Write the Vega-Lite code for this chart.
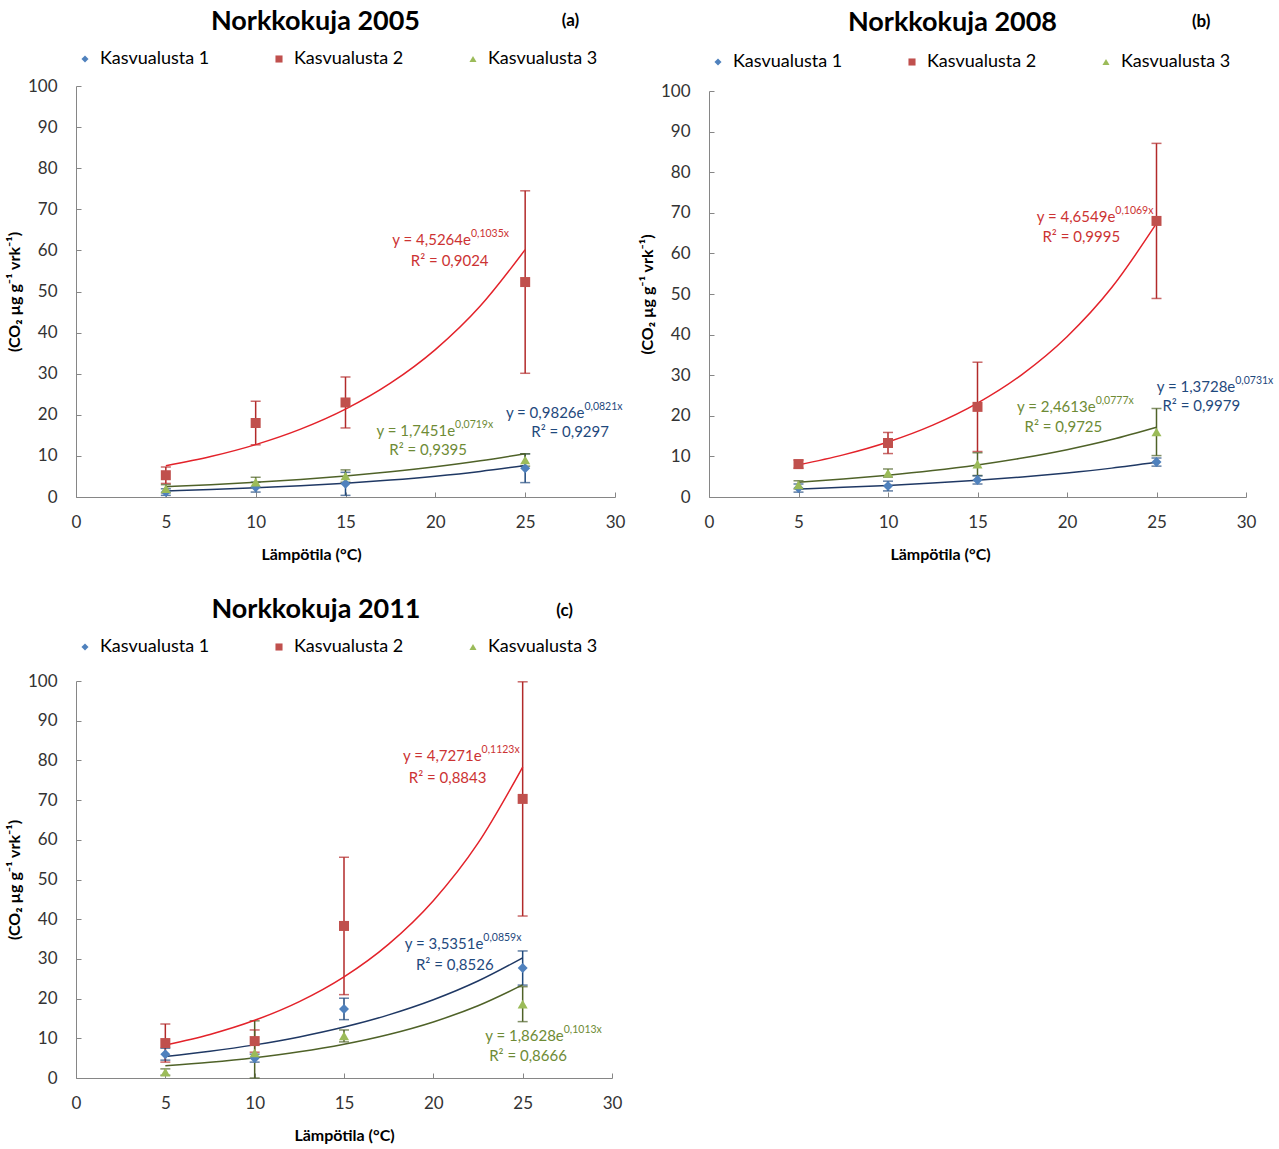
{
  "$schema": "https://vega.github.io/schema/vega-lite/v6.json",
  "background": "white",
  "padding": {"left": 6, "top": 8, "right": 5, "bottom": 5},
  "datasets": {
    "pts": [
      {"p":"a","s":"Kasvualusta 1","x":5,"y":1.2,"lo":0.4,"hi":2.0},
      {"p":"a","s":"Kasvualusta 1","x":10,"y":2.4,"lo":1.2,"hi":3.6},
      {"p":"a","s":"Kasvualusta 1","x":15,"y":3.2,"lo":0.4,"hi":6.0},
      {"p":"a","s":"Kasvualusta 1","x":25,"y":7.0,"lo":3.5,"hi":10.5},
      {"p":"a","s":"Kasvualusta 2","x":5,"y":5.3,"lo":3.3,"hi":7.3},
      {"p":"a","s":"Kasvualusta 2","x":10,"y":18.0,"lo":12.7,"hi":23.3},
      {"p":"a","s":"Kasvualusta 2","x":15,"y":23.0,"lo":16.8,"hi":29.2},
      {"p":"a","s":"Kasvualusta 2","x":25,"y":52.3,"lo":30.1,"hi":74.5},
      {"p":"a","s":"Kasvualusta 3","x":5,"y":2.0,"lo":1.0,"hi":3.0},
      {"p":"a","s":"Kasvualusta 3","x":10,"y":3.6,"lo":2.4,"hi":4.8},
      {"p":"a","s":"Kasvualusta 3","x":15,"y":5.1,"lo":3.6,"hi":6.6},
      {"p":"a","s":"Kasvualusta 3","x":25,"y":9.0,"lo":7.5,"hi":10.5},
      {"p":"b","s":"Kasvualusta 1","x":5,"y":2.2,"lo":1.2,"hi":3.2},
      {"p":"b","s":"Kasvualusta 1","x":10,"y":2.7,"lo":1.5,"hi":3.9},
      {"p":"b","s":"Kasvualusta 1","x":15,"y":4.2,"lo":3.2,"hi":5.2},
      {"p":"b","s":"Kasvualusta 1","x":25,"y":8.6,"lo":7.6,"hi":9.6},
      {"p":"b","s":"Kasvualusta 2","x":5,"y":8.1,"lo":7.1,"hi":9.1},
      {"p":"b","s":"Kasvualusta 2","x":10,"y":13.3,"lo":10.7,"hi":15.9},
      {"p":"b","s":"Kasvualusta 2","x":15,"y":22.2,"lo":11.2,"hi":33.2},
      {"p":"b","s":"Kasvualusta 2","x":25,"y":68.0,"lo":48.9,"hi":87.1},
      {"p":"b","s":"Kasvualusta 3","x":5,"y":3.0,"lo":2.0,"hi":4.0},
      {"p":"b","s":"Kasvualusta 3","x":10,"y":5.9,"lo":4.9,"hi":6.9},
      {"p":"b","s":"Kasvualusta 3","x":15,"y":8.1,"lo":5.3,"hi":10.9},
      {"p":"b","s":"Kasvualusta 3","x":25,"y":16.0,"lo":10.2,"hi":21.8},
      {"p":"c","s":"Kasvualusta 1","x":5,"y":6.0,"lo":4.5,"hi":7.5},
      {"p":"c","s":"Kasvualusta 1","x":10,"y":5.0,"lo":4.0,"hi":6.0},
      {"p":"c","s":"Kasvualusta 1","x":15,"y":17.4,"lo":14.7,"hi":20.1},
      {"p":"c","s":"Kasvualusta 1","x":25,"y":27.7,"lo":23.4,"hi":32.0},
      {"p":"c","s":"Kasvualusta 2","x":5,"y":8.8,"lo":4.0,"hi":13.6},
      {"p":"c","s":"Kasvualusta 2","x":10,"y":9.3,"lo":6.5,"hi":12.1},
      {"p":"c","s":"Kasvualusta 2","x":15,"y":38.3,"lo":21.0,"hi":55.6},
      {"p":"c","s":"Kasvualusta 2","x":25,"y":70.3,"lo":40.8,"hi":99.8},
      {"p":"c","s":"Kasvualusta 3","x":5,"y":1.5,"lo":0.7,"hi":2.3},
      {"p":"c","s":"Kasvualusta 3","x":10,"y":6.3,"lo":0.0,"hi":14.4},
      {"p":"c","s":"Kasvualusta 3","x":15,"y":10.6,"lo":9.1,"hi":12.1},
      {"p":"c","s":"Kasvualusta 3","x":25,"y":18.6,"lo":14.2,"hi":23.0}
    ],
    "fits": [
      {"p":"a","s":"Kasvualusta 1","x":5,"y":1.481},{"p":"a","s":"Kasvualusta 1","x":7.5,"y":1.819},{"p":"a","s":"Kasvualusta 1","x":10,"y":2.233},{"p":"a","s":"Kasvualusta 1","x":12.5,"y":2.742},{"p":"a","s":"Kasvualusta 1","x":15,"y":3.367},{"p":"a","s":"Kasvualusta 1","x":17.5,"y":4.134},{"p":"a","s":"Kasvualusta 1","x":20,"y":5.075},{"p":"a","s":"Kasvualusta 1","x":22.5,"y":6.232},{"p":"a","s":"Kasvualusta 1","x":25,"y":7.652},
      {"p":"a","s":"Kasvualusta 2","x":5,"y":7.594},{"p":"a","s":"Kasvualusta 2","x":7.5,"y":9.838},{"p":"a","s":"Kasvualusta 2","x":10,"y":12.742},{"p":"a","s":"Kasvualusta 2","x":12.5,"y":16.506},{"p":"a","s":"Kasvualusta 2","x":15,"y":21.379},{"p":"a","s":"Kasvualusta 2","x":17.5,"y":27.693},{"p":"a","s":"Kasvualusta 2","x":20,"y":35.870},{"p":"a","s":"Kasvualusta 2","x":22.5,"y":46.464},{"p":"a","s":"Kasvualusta 2","x":25,"y":60.184},
      {"p":"a","s":"Kasvualusta 3","x":5,"y":2.500},{"p":"a","s":"Kasvualusta 3","x":7.5,"y":2.993},{"p":"a","s":"Kasvualusta 3","x":10,"y":3.582},{"p":"a","s":"Kasvualusta 3","x":12.5,"y":4.287},{"p":"a","s":"Kasvualusta 3","x":15,"y":5.131},{"p":"a","s":"Kasvualusta 3","x":17.5,"y":6.142},{"p":"a","s":"Kasvualusta 3","x":20,"y":7.351},{"p":"a","s":"Kasvualusta 3","x":22.5,"y":8.798},{"p":"a","s":"Kasvualusta 3","x":25,"y":10.530},
      {"p":"b","s":"Kasvualusta 1","x":5,"y":1.978},{"p":"b","s":"Kasvualusta 1","x":7.5,"y":2.375},{"p":"b","s":"Kasvualusta 1","x":10,"y":2.852},{"p":"b","s":"Kasvualusta 1","x":12.5,"y":3.423},{"p":"b","s":"Kasvualusta 1","x":15,"y":4.110},{"p":"b","s":"Kasvualusta 1","x":17.5,"y":4.934},{"p":"b","s":"Kasvualusta 1","x":20,"y":5.923},{"p":"b","s":"Kasvualusta 1","x":22.5,"y":7.111},{"p":"b","s":"Kasvualusta 1","x":25,"y":8.536},
      {"p":"b","s":"Kasvualusta 2","x":5,"y":7.944},{"p":"b","s":"Kasvualusta 2","x":7.5,"y":10.378},{"p":"b","s":"Kasvualusta 2","x":10,"y":13.557},{"p":"b","s":"Kasvualusta 2","x":12.5,"y":17.711},{"p":"b","s":"Kasvualusta 2","x":15,"y":23.137},{"p":"b","s":"Kasvualusta 2","x":17.5,"y":30.225},{"p":"b","s":"Kasvualusta 2","x":20,"y":39.485},{"p":"b","s":"Kasvualusta 2","x":22.5,"y":51.582},{"p":"b","s":"Kasvualusta 2","x":25,"y":67.384},
      {"p":"b","s":"Kasvualusta 3","x":5,"y":3.630},{"p":"b","s":"Kasvualusta 3","x":7.5,"y":4.408},{"p":"b","s":"Kasvualusta 3","x":10,"y":5.353},{"p":"b","s":"Kasvualusta 3","x":12.5,"y":6.501},{"p":"b","s":"Kasvualusta 3","x":15,"y":7.895},{"p":"b","s":"Kasvualusta 3","x":17.5,"y":9.587},{"p":"b","s":"Kasvualusta 3","x":20,"y":11.643},{"p":"b","s":"Kasvualusta 3","x":22.5,"y":14.139},{"p":"b","s":"Kasvualusta 3","x":25,"y":17.170},
      {"p":"c","s":"Kasvualusta 1","x":5,"y":5.432},{"p":"c","s":"Kasvualusta 1","x":7.5,"y":6.733},{"p":"c","s":"Kasvualusta 1","x":10,"y":8.346},{"p":"c","s":"Kasvualusta 1","x":12.5,"y":10.345},{"p":"c","s":"Kasvualusta 1","x":15,"y":12.823},{"p":"c","s":"Kasvualusta 1","x":17.5,"y":15.895},{"p":"c","s":"Kasvualusta 1","x":20,"y":19.703},{"p":"c","s":"Kasvualusta 1","x":22.5,"y":24.421},{"p":"c","s":"Kasvualusta 1","x":25,"y":30.272},
      {"p":"c","s":"Kasvualusta 2","x":5,"y":8.288},{"p":"c","s":"Kasvualusta 2","x":7.5,"y":10.974},{"p":"c","s":"Kasvualusta 2","x":10,"y":14.532},{"p":"c","s":"Kasvualusta 2","x":12.5,"y":19.241},{"p":"c","s":"Kasvualusta 2","x":15,"y":25.479},{"p":"c","s":"Kasvualusta 2","x":17.5,"y":33.736},{"p":"c","s":"Kasvualusta 2","x":20,"y":44.671},{"p":"c","s":"Kasvualusta 2","x":22.5,"y":59.148},{"p":"c","s":"Kasvualusta 2","x":25,"y":78.329},
      {"p":"c","s":"Kasvualusta 3","x":5,"y":3.091},{"p":"c","s":"Kasvualusta 3","x":7.5,"y":3.982},{"p":"c","s":"Kasvualusta 3","x":10,"y":5.130},{"p":"c","s":"Kasvualusta 3","x":12.5,"y":6.608},{"p":"c","s":"Kasvualusta 3","x":15,"y":8.513},{"p":"c","s":"Kasvualusta 3","x":17.5,"y":10.967},{"p":"c","s":"Kasvualusta 3","x":20,"y":14.127},{"p":"c","s":"Kasvualusta 3","x":22.5,"y":18.199},{"p":"c","s":"Kasvualusta 3","x":25,"y":23.444}
    ],
    "eqs": [
      {"p":"a","s":"Kasvualusta 2","ex":21.98,"ey":62.5,"rx":20.8,"ry":57.4,"base":"y = 4,5264e","ex2":"0,1035x","r2":"R² = 0,9024"},
      {"p":"a","s":"Kasvualusta 3","ex":21.1,"ey":16.1,"rx":19.6,"ry":11.4,"base":"y = 1,7451e","ex2":"0,0719x","r2":"R² = 0,9395"},
      {"p":"a","s":"Kasvualusta 1","ex":28.3,"ey":20.4,"rx":27.5,"ry":15.8,"base":"y = 0,9826e","ex2":"0,0821x","r2":"R² = 0,9297"},
      {"p":"b","s":"Kasvualusta 2","ex":22.7,"ey":69.0,"rx":20.8,"ry":64.0,"base":"y = 4,6549e","ex2":"0,1069x","r2":"R² = 0,9995"},
      {"p":"b","s":"Kasvualusta 3","ex":21.6,"ey":22.2,"rx":19.8,"ry":17.2,"base":"y = 2,4613e","ex2":"0,0777x","r2":"R² = 0,9725"},
      {"p":"b","s":"Kasvualusta 1","ex":29.4,"ey":27.1,"rx":27.5,"ry":22.4,"base":"y = 1,3728e","ex2":"0,0731x","r2":"R² = 0,9979"},
      {"p":"c","s":"Kasvualusta 2","ex":22.7,"ey":81.1,"rx":20.8,"ry":75.6,"base":"y = 4,7271e","ex2":"0,1123x","r2":"R² = 0,8843"},
      {"p":"c","s":"Kasvualusta 1","ex":22.8,"ey":33.8,"rx":21.2,"ry":28.5,"base":"y = 3,5351e","ex2":"0,0859x","r2":"R² = 0,8526"},
      {"p":"c","s":"Kasvualusta 3","ex":27.3,"ey":10.6,"rx":25.3,"ry":5.5,"base":"y = 1,8628e","ex2":"0,1013x","r2":"R² = 0,8666"}
    ]
  },
  "vconcat": [
    {
      "hconcat": [
        {
          "width": 539, "height": 411,
          "title": {"text": "Norkkokuja 2005", "subtitle": "\u200b\u2003\u2003\u2003\u2003\u2003\u2003\u2003\u2003\u2003\u2003\u2003\u2003\u2003\u2003\u2003\u2003\u2003\u2003\u2003\u2003\u2003\u2003\u2003\u2003\u2003\u2003\u2003\u2003\u2003\u2003\u2003\u2003\u2003\u2003\u2003\u2003\u2003\u2003\u2003\u2003(a)", "anchor": "middle", "dx": -30, "fontSize": 27, "fontWeight": "bold", "color": "#000000", "subtitleFontSize": 17, "subtitleFontWeight": "bold", "subtitleColor": "#000000", "subtitlePadding": -23, "offset": 14},
          "layer": [
            {"data": {"name": "pts"}, "transform": [{"filter": "datum.p === 'a'"}],
             "mark": {"type": "rule", "strokeWidth": 1.5},
             "encoding": {
               "x": {"field": "x", "type": "quantitative", "scale": {"domain": [0, 30]}, "axis": {"title": "Lämpötila (°C)", "values": [0,5,10,15,20,25,30], "tickCount": 30, "titleX": 235}},
               "y": {"field": "lo", "type": "quantitative", "scale": {"domain": [0, 100]}, "axis": {"title": "(CO₂ µg g⁻¹ vrk⁻¹)", "values": [0,10,20,30,40,50,60,70,80,90,100], "tickCount": 30, "labelOverlap": false}},
               "y2": {"field": "hi"},
               "color": {"field": "s", "type": "nominal", "scale": {"domain": ["Kasvualusta 1","Kasvualusta 2","Kasvualusta 3"], "range": ["#1F497D","#B22A2A","#4F6228"]}, "legend": null}
             }},
            {"data": {"name": "pts"}, "transform": [{"filter": "datum.p === 'a'"}],
             "mark": {"type": "tick", "orient": "horizontal", "size": 10, "thickness": 1.5},
             "encoding": {
               "x": {"field": "x", "type": "quantitative"},
               "y": {"field": "lo", "type": "quantitative"},
               "color": {"field": "s", "type": "nominal", "scale": {"domain": ["Kasvualusta 1","Kasvualusta 2","Kasvualusta 3"], "range": ["#1F497D","#B22A2A","#4F6228"]}, "legend": null}
             }},
            {"data": {"name": "pts"}, "transform": [{"filter": "datum.p === 'a'"}],
             "mark": {"type": "tick", "orient": "horizontal", "size": 10, "thickness": 1.5},
             "encoding": {
               "x": {"field": "x", "type": "quantitative"},
               "y": {"field": "hi", "type": "quantitative"},
               "color": {"field": "s", "type": "nominal", "scale": {"domain": ["Kasvualusta 1","Kasvualusta 2","Kasvualusta 3"], "range": ["#1F497D","#B22A2A","#4F6228"]}, "legend": null}
             }},
            {"data": {"name": "fits"}, "transform": [{"filter": "datum.p === 'a'"}],
             "mark": {"type": "line", "strokeWidth": 1.5, "interpolate": "monotone"},
             "encoding": {
               "x": {"field": "x", "type": "quantitative"},
               "y": {"field": "y", "type": "quantitative"},
               "color": {"field": "s", "type": "nominal", "scale": {"domain": ["Kasvualusta 1","Kasvualusta 2","Kasvualusta 3"], "range": ["#1F3864","#E3222A","#4F6228"]}, "legend": null}
             }},
            {"data": {"name": "pts"}, "transform": [{"filter": "datum.p === 'a'"}],
             "mark": {"type": "point", "filled": true, "opacity": 1, "size": 100},
             "encoding": {
               "x": {"field": "x", "type": "quantitative"},
               "y": {"field": "y", "type": "quantitative"},
               "color": {"field": "s", "type": "nominal", "scale": {"domain": ["Kasvualusta 1","Kasvualusta 2","Kasvualusta 3"], "range": ["#4F81BD","#C0504D","#9BBB59"]}, "legend": {"orient": "top", "direction": "horizontal", "title": null, "labelFontSize": 18, "labelColor": "#000000", "symbolSize": 50, "columnPadding": 60, "gridAlign": "all", "offset": 18, "labelOffset": 6}},
               "shape": {"field": "s", "type": "nominal", "scale": {"domain": ["Kasvualusta 1","Kasvualusta 2","Kasvualusta 3"], "range": ["diamond","square","triangle-up"]}, "legend": {"orient": "top", "direction": "horizontal", "title": null, "labelFontSize": 18, "labelColor": "#000000", "symbolSize": 50, "columnPadding": 60, "gridAlign": "all", "offset": 18, "labelOffset": 6}}
             }},
            {"data": {"name": "eqs"}, "transform": [{"filter": "datum.p === 'a'"}],
             "mark": {"type": "text", "align": "right", "baseline": "middle", "fontSize": 15},
             "encoding": {
               "x": {"field": "ex", "type": "quantitative"},
               "y": {"field": "ey", "type": "quantitative"},
               "text": {"field": "base"},
               "color": {"field": "s", "type": "nominal", "scale": {"domain": ["Kasvualusta 1","Kasvualusta 2","Kasvualusta 3"], "range": ["#1F497D","#CC3333","#6E8B35"]}, "legend": null}
             }},
            {"data": {"name": "eqs"}, "transform": [{"filter": "datum.p === 'a'"}],
             "mark": {"type": "text", "align": "left", "baseline": "middle", "fontSize": 10.5, "dy": -6},
             "encoding": {
               "x": {"field": "ex", "type": "quantitative"},
               "y": {"field": "ey", "type": "quantitative"},
               "text": {"field": "ex2"},
               "color": {"field": "s", "type": "nominal", "scale": {"domain": ["Kasvualusta 1","Kasvualusta 2","Kasvualusta 3"], "range": ["#1F497D","#CC3333","#6E8B35"]}, "legend": null}
             }},
            {"data": {"name": "eqs"}, "transform": [{"filter": "datum.p === 'a'"}],
             "mark": {"type": "text", "align": "center", "baseline": "middle", "fontSize": 15},
             "encoding": {
               "x": {"field": "rx", "type": "quantitative"},
               "y": {"field": "ry", "type": "quantitative"},
               "text": {"field": "r2"},
               "color": {"field": "s", "type": "nominal", "scale": {"domain": ["Kasvualusta 1","Kasvualusta 2","Kasvualusta 3"], "range": ["#1F497D","#CC3333","#6E8B35"]}, "legend": null}
             }}
          ],
          "resolve": {"scale": {"color": "independent", "shape": "independent"}}
        },
        {
          "width": 537, "height": 411,
          "title": {"text": "Norkkokuja 2008", "subtitle": "\u200b\u2003\u2003\u2003\u2003\u2003\u2003\u2003\u2003\u2003\u2003\u2003\u2003\u2003\u2003\u2003\u2003\u2003\u2003\u2003\u2003\u2003\u2003\u2003\u2003\u2003\u2003\u2003\u2003\u2003\u2003\u2003\u2003\u2003\u2003\u2003\u2003\u2003\u2003\u2003(b)", "anchor": "middle", "dx": -25, "fontSize": 27, "fontWeight": "bold", "color": "#000000", "subtitleFontSize": 17, "subtitleFontWeight": "bold", "subtitleColor": "#000000", "subtitlePadding": -23, "offset": 16},
          "layer": [
            {"data": {"name": "pts"}, "transform": [{"filter": "datum.p === 'b'"}],
             "mark": {"type": "rule", "strokeWidth": 1.5},
             "encoding": {
               "x": {"field": "x", "type": "quantitative", "scale": {"domain": [0, 30]}, "axis": {"title": "Lämpötila (°C)", "values": [0,5,10,15,20,25,30], "tickCount": 30, "titleX": 231}},
               "y": {"field": "lo", "type": "quantitative", "scale": {"domain": [0, 100], "range": [411, 5]}, "axis": {"title": "(CO₂ µg g⁻¹ vrk⁻¹)", "values": [0,10,20,30,40,50,60,70,80,90,100], "tickCount": 30, "labelOverlap": false}},
               "y2": {"field": "hi"},
               "color": {"field": "s", "type": "nominal", "scale": {"domain": ["Kasvualusta 1","Kasvualusta 2","Kasvualusta 3"], "range": ["#1F497D","#B22A2A","#4F6228"]}, "legend": null}
             }},
            {"data": {"name": "pts"}, "transform": [{"filter": "datum.p === 'b'"}],
             "mark": {"type": "tick", "orient": "horizontal", "size": 10, "thickness": 1.5},
             "encoding": {
               "x": {"field": "x", "type": "quantitative"},
               "y": {"field": "lo", "type": "quantitative"},
               "color": {"field": "s", "type": "nominal", "scale": {"domain": ["Kasvualusta 1","Kasvualusta 2","Kasvualusta 3"], "range": ["#1F497D","#B22A2A","#4F6228"]}, "legend": null}
             }},
            {"data": {"name": "pts"}, "transform": [{"filter": "datum.p === 'b'"}],
             "mark": {"type": "tick", "orient": "horizontal", "size": 10, "thickness": 1.5},
             "encoding": {
               "x": {"field": "x", "type": "quantitative"},
               "y": {"field": "hi", "type": "quantitative"},
               "color": {"field": "s", "type": "nominal", "scale": {"domain": ["Kasvualusta 1","Kasvualusta 2","Kasvualusta 3"], "range": ["#1F497D","#B22A2A","#4F6228"]}, "legend": null}
             }},
            {"data": {"name": "fits"}, "transform": [{"filter": "datum.p === 'b'"}],
             "mark": {"type": "line", "strokeWidth": 1.5, "interpolate": "monotone"},
             "encoding": {
               "x": {"field": "x", "type": "quantitative"},
               "y": {"field": "y", "type": "quantitative"},
               "color": {"field": "s", "type": "nominal", "scale": {"domain": ["Kasvualusta 1","Kasvualusta 2","Kasvualusta 3"], "range": ["#1F3864","#E3222A","#4F6228"]}, "legend": null}
             }},
            {"data": {"name": "pts"}, "transform": [{"filter": "datum.p === 'b'"}],
             "mark": {"type": "point", "filled": true, "opacity": 1, "size": 100},
             "encoding": {
               "x": {"field": "x", "type": "quantitative"},
               "y": {"field": "y", "type": "quantitative"},
               "color": {"field": "s", "type": "nominal", "scale": {"domain": ["Kasvualusta 1","Kasvualusta 2","Kasvualusta 3"], "range": ["#4F81BD","#C0504D","#9BBB59"]}, "legend": {"orient": "top", "direction": "horizontal", "title": null, "labelFontSize": 18, "labelColor": "#000000", "symbolSize": 50, "columnPadding": 60, "gridAlign": "all", "offset": 15, "labelOffset": 6}},
               "shape": {"field": "s", "type": "nominal", "scale": {"domain": ["Kasvualusta 1","Kasvualusta 2","Kasvualusta 3"], "range": ["diamond","square","triangle-up"]}, "legend": {"orient": "top", "direction": "horizontal", "title": null, "labelFontSize": 18, "labelColor": "#000000", "symbolSize": 50, "columnPadding": 60, "gridAlign": "all", "offset": 15, "labelOffset": 6}}
             }},
            {"data": {"name": "eqs"}, "transform": [{"filter": "datum.p === 'b'"}],
             "mark": {"type": "text", "align": "right", "baseline": "middle", "fontSize": 15},
             "encoding": {
               "x": {"field": "ex", "type": "quantitative"},
               "y": {"field": "ey", "type": "quantitative"},
               "text": {"field": "base"},
               "color": {"field": "s", "type": "nominal", "scale": {"domain": ["Kasvualusta 1","Kasvualusta 2","Kasvualusta 3"], "range": ["#1F497D","#CC3333","#6E8B35"]}, "legend": null}
             }},
            {"data": {"name": "eqs"}, "transform": [{"filter": "datum.p === 'b'"}],
             "mark": {"type": "text", "align": "left", "baseline": "middle", "fontSize": 10.5, "dy": -6},
             "encoding": {
               "x": {"field": "ex", "type": "quantitative"},
               "y": {"field": "ey", "type": "quantitative"},
               "text": {"field": "ex2"},
               "color": {"field": "s", "type": "nominal", "scale": {"domain": ["Kasvualusta 1","Kasvualusta 2","Kasvualusta 3"], "range": ["#1F497D","#CC3333","#6E8B35"]}, "legend": null}
             }},
            {"data": {"name": "eqs"}, "transform": [{"filter": "datum.p === 'b'"}],
             "mark": {"type": "text", "align": "center", "baseline": "middle", "fontSize": 15},
             "encoding": {
               "x": {"field": "rx", "type": "quantitative"},
               "y": {"field": "ry", "type": "quantitative"},
               "text": {"field": "r2"},
               "color": {"field": "s", "type": "nominal", "scale": {"domain": ["Kasvualusta 1","Kasvualusta 2","Kasvualusta 3"], "range": ["#1F497D","#CC3333","#6E8B35"]}, "legend": null}
             }}
          ],
          "resolve": {"scale": {"color": "independent", "shape": "independent"}}
        }
      ],
      "spacing": 14,
      "resolve": {"scale": {"color": "independent", "shape": "independent", "x": "independent", "y": "independent"}, "legend": {"color": "independent", "shape": "independent"}}
    },
    {
      "width": 536, "height": 397,
      "title": {"text": "Norkkokuja 2011", "subtitle": "\u200b\u2003\u2003\u2003\u2003\u2003\u2003\u2003\u2003\u2003\u2003\u2003\u2003\u2003\u2003\u2003\u2003\u2003\u2003\u2003\u2003\u2003\u2003\u2003\u2003\u2003\u2003\u2003\u2003\u2003\u2003\u2003\u2003\u2003\u2003\u2003\u2003\u2003\u2003\u2003(c)", "anchor": "middle", "dx": -28, "fontSize": 27, "fontWeight": "bold", "color": "#000000", "subtitleFontSize": 17, "subtitleFontWeight": "bold", "subtitleColor": "#000000", "subtitlePadding": -21, "offset": 14},
      "layer": [
        {"data": {"name": "pts"}, "transform": [{"filter": "datum.p === 'c'"}],
         "mark": {"type": "rule", "strokeWidth": 1.5},
         "encoding": {
           "x": {"field": "x", "type": "quantitative", "scale": {"domain": [0, 30]}, "axis": {"title": "Lämpötila (°C)", "values": [0,5,10,15,20,25,30], "tickCount": 30}},
           "y": {"field": "lo", "type": "quantitative", "scale": {"domain": [0, 100]}, "axis": {"title": "(CO₂ µg g⁻¹ vrk⁻¹)", "values": [0,10,20,30,40,50,60,70,80,90,100], "tickCount": 30, "labelOverlap": false}},
           "y2": {"field": "hi"},
           "color": {"field": "s", "type": "nominal", "scale": {"domain": ["Kasvualusta 1","Kasvualusta 2","Kasvualusta 3"], "range": ["#1F497D","#B22A2A","#4F6228"]}, "legend": null}
         }},
        {"data": {"name": "pts"}, "transform": [{"filter": "datum.p === 'c'"}],
         "mark": {"type": "tick", "orient": "horizontal", "size": 10, "thickness": 1.5},
         "encoding": {
           "x": {"field": "x", "type": "quantitative"},
           "y": {"field": "lo", "type": "quantitative"},
           "color": {"field": "s", "type": "nominal", "scale": {"domain": ["Kasvualusta 1","Kasvualusta 2","Kasvualusta 3"], "range": ["#1F497D","#B22A2A","#4F6228"]}, "legend": null}
         }},
        {"data": {"name": "pts"}, "transform": [{"filter": "datum.p === 'c'"}],
         "mark": {"type": "tick", "orient": "horizontal", "size": 10, "thickness": 1.5},
         "encoding": {
           "x": {"field": "x", "type": "quantitative"},
           "y": {"field": "hi", "type": "quantitative"},
           "color": {"field": "s", "type": "nominal", "scale": {"domain": ["Kasvualusta 1","Kasvualusta 2","Kasvualusta 3"], "range": ["#1F497D","#B22A2A","#4F6228"]}, "legend": null}
         }},
        {"data": {"name": "fits"}, "transform": [{"filter": "datum.p === 'c'"}],
         "mark": {"type": "line", "strokeWidth": 1.5, "interpolate": "monotone"},
         "encoding": {
           "x": {"field": "x", "type": "quantitative"},
           "y": {"field": "y", "type": "quantitative"},
           "color": {"field": "s", "type": "nominal", "scale": {"domain": ["Kasvualusta 1","Kasvualusta 2","Kasvualusta 3"], "range": ["#1F3864","#E3222A","#4F6228"]}, "legend": null}
         }},
        {"data": {"name": "pts"}, "transform": [{"filter": "datum.p === 'c'"}],
         "mark": {"type": "point", "filled": true, "opacity": 1, "size": 100},
         "encoding": {
           "x": {"field": "x", "type": "quantitative"},
           "y": {"field": "y", "type": "quantitative"},
           "color": {"field": "s", "type": "nominal", "scale": {"domain": ["Kasvualusta 1","Kasvualusta 2","Kasvualusta 3"], "range": ["#4F81BD","#C0504D","#9BBB59"]}, "legend": {"orient": "top", "direction": "horizontal", "title": null, "labelFontSize": 18, "labelColor": "#000000", "symbolSize": 50, "columnPadding": 60, "gridAlign": "all", "offset": 25, "labelOffset": 6}},
           "shape": {"field": "s", "type": "nominal", "scale": {"domain": ["Kasvualusta 1","Kasvualusta 2","Kasvualusta 3"], "range": ["diamond","square","triangle-up"]}, "legend": {"orient": "top", "direction": "horizontal", "title": null, "labelFontSize": 18, "labelColor": "#000000", "symbolSize": 50, "columnPadding": 60, "gridAlign": "all", "offset": 25, "labelOffset": 6}}
         }},
        {"data": {"name": "eqs"}, "transform": [{"filter": "datum.p === 'c'"}],
         "mark": {"type": "text", "align": "right", "baseline": "middle", "fontSize": 15},
         "encoding": {
           "x": {"field": "ex", "type": "quantitative"},
           "y": {"field": "ey", "type": "quantitative"},
           "text": {"field": "base"},
           "color": {"field": "s", "type": "nominal", "scale": {"domain": ["Kasvualusta 1","Kasvualusta 2","Kasvualusta 3"], "range": ["#1F497D","#CC3333","#6E8B35"]}, "legend": null}
         }},
        {"data": {"name": "eqs"}, "transform": [{"filter": "datum.p === 'c'"}],
         "mark": {"type": "text", "align": "left", "baseline": "middle", "fontSize": 10.5, "dy": -6},
         "encoding": {
           "x": {"field": "ex", "type": "quantitative"},
           "y": {"field": "ey", "type": "quantitative"},
           "text": {"field": "ex2"},
           "color": {"field": "s", "type": "nominal", "scale": {"domain": ["Kasvualusta 1","Kasvualusta 2","Kasvualusta 3"], "range": ["#1F497D","#CC3333","#6E8B35"]}, "legend": null}
         }},
        {"data": {"name": "eqs"}, "transform": [{"filter": "datum.p === 'c'"}],
         "mark": {"type": "text", "align": "center", "baseline": "middle", "fontSize": 15},
         "encoding": {
           "x": {"field": "rx", "type": "quantitative"},
           "y": {"field": "ry", "type": "quantitative"},
           "text": {"field": "r2"},
           "color": {"field": "s", "type": "nominal", "scale": {"domain": ["Kasvualusta 1","Kasvualusta 2","Kasvualusta 3"], "range": ["#1F497D","#CC3333","#6E8B35"]}, "legend": null}
         }}
      ],
      "resolve": {"scale": {"color": "independent", "shape": "independent"}}
    }
  ],
  "spacing": 34,
  "resolve": {"scale": {"color": "independent", "shape": "independent", "x": "independent", "y": "independent"}, "legend": {"color": "independent", "shape": "independent"}},
  "config": {
    "font": "Lato",
    "view": {"stroke": null},
    "axis": {"grid": false, "domainColor": "#868686", "tickColor": "#868686", "tickSize": -5, "labelFontSize": 17, "labelColor": "#333333", "labelFont": "Lato", "titleFont": "Lato", "titleFontSize": 16, "titleFontWeight": "bold", "titleColor": "#000000", "labelFlush": false, "labelOverlap": false},
    "axisX": {"labelPadding": 22, "titlePadding": 16},
    "axisY": {"labelPadding": 24, "titlePadding": 5},
    "legend": {"labelFont": "Lato"},
    "title": {"font": "Lato", "subtitleFont": "Lato"}
  }
}
